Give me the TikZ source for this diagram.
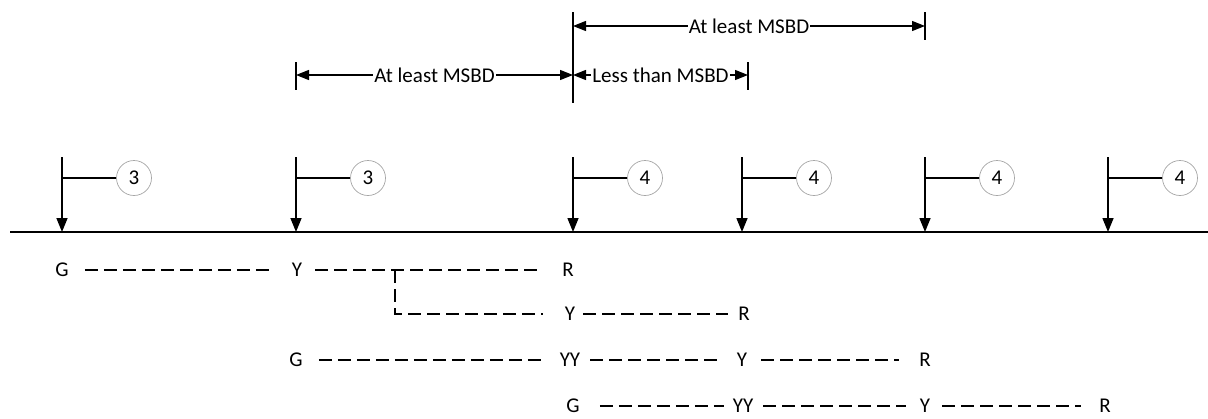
\documentclass[tikz,border=0pt]{standalone}
\usepackage{fontspec}
\setmainfont{Carlito}
\usetikzlibrary{arrows.meta}
\begin{document}
\begin{tikzpicture}[x=1pt,y=-1pt, font=\fontsize{21}{25}\selectfont,
  evline/.style={line width=1.5pt, -{Triangle[length=14pt,width=11pt]}},
  stub/.style={line width=1.2pt},
  num/.style={circle, draw=gray!70, line width=0.7pt, minimum size=35pt, inner sep=0pt},
  sig/.style={inner xsep=0pt, inner ysep=2pt},
  dsh/.style={line width=1.2pt, dash pattern=on 13pt off 6pt, shorten <=13pt, shorten >=13pt},
  dim/.style={line width=1.2pt, {Triangle[length=13pt,width=10pt]}-{Triangle[length=13pt,width=10pt]}},
  tick/.style={line width=1.2pt},
  lbl/.style={fill=white, inner xsep=1pt, inner ysep=2pt}]
\useasboundingbox (0,0) rectangle (1208,418);

% time axis
\coordinate (L0) at (10,232);
\coordinate (L1) at (1208,232);
\draw[line width=1.5pt] (L0) -- (L1);

% events
\foreach \x/\n/\k in {62/3/1, 296/3/2, 573/4/3, 742/4/4, 925/4/5, 1108/4/6} {
  \coordinate (t\k) at (\x,157);
  \coordinate (b\k) at (\x,232);
  \coordinate (s\k) at (\x,178);
  \node[num] (c\k) at (\x+72,178) {\n};
  \draw[evline] (t\k) -- (b\k);
  \draw[stub] (s\k) -- (c\k.west);
}

% dimension lines
\coordinate (k1a) at (573,12);  \coordinate (k1b) at (573,103);
\coordinate (k2a) at (925,12);  \coordinate (k2b) at (925,40);
\coordinate (k3a) at (296,62);  \coordinate (k3b) at (296,90);
\coordinate (k4a) at (748,62);  \coordinate (k4b) at (748,90);
\draw[tick] (k1a) -- (k1b);
\draw[tick] (k2a) -- (k2b);
\draw[tick] (k3a) -- (k3b);
\draw[tick] (k4a) -- (k4b);
\coordinate (a1) at (573,26); \coordinate (a2) at (925,26);
\draw[dim] (a1) -- node[lbl] {At least MSBD} (a2);
\coordinate (p1) at (296,75); \coordinate (p2) at (573,75); \coordinate (p3) at (748,75);
\draw[dim] (p1) -- node[lbl] {At least MSBD} (p2);
\draw[dim] (p2) -- node[lbl] {Less than MSBD} (p3);

% signal rows
\node[sig] (G1) at (62,270) {G};
\node[sig] (Y1) at (297,270) {Y};
\node[sig] (R1) at (568,270) {R};
\node[sig] (Y2) at (570,314) {Y};
\node[sig] (R2) at (744,314) {R};
\node[sig] (G3) at (296,360) {G};
\node[sig] (YY3) at (570,360) {YY};
\node[sig] (Y3) at (742,360) {Y};
\node[sig] (R3) at (925,360) {R};
\node[sig] (G4) at (573,406) {G};
\node[sig] (YY4) at (743,406) {YY};
\node[sig] (Y4) at (925,406) {Y};
\node[sig] (R4) at (1105,406) {R};

\draw[dsh, shorten <=16pt, shorten >=18pt] (G1.east) -- (Y1.west);
\draw[dsh, shorten >=22pt] (Y1.east) -- (R1.west);
\coordinate (br) at (395,270);
\coordinate (bc) at (395,314);
\draw[dsh, shorten <=0pt, shorten >=22pt] (br) -- (bc) -- (Y2.west);
\draw[dsh, shorten <=8pt, shorten >=10pt] (Y2.east) -- (R2.west);
\draw[dsh, shorten <=16pt, shorten >=18pt] (G3.east) -- (YY3.west);
\draw[dsh, shorten <=10pt, shorten >=16pt] (YY3.east) -- (Y3.west);
\draw[dsh, shorten <=14pt, shorten >=20pt] (Y3.east) -- (R3.west);
\draw[dsh, shorten <=20pt, shorten >=9pt] (G4.east) -- (YY4.west);
\draw[dsh, shorten <=10pt, shorten >=14pt] (YY4.east) -- (Y4.west);
\draw[dsh, shorten <=12pt, shorten >=18pt] (Y4.east) -- (R4.west);
\end{tikzpicture}
\end{document}
